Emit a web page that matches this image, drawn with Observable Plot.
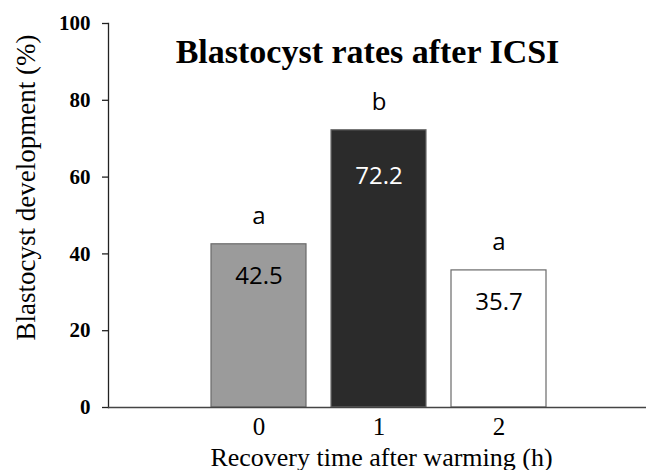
<!DOCTYPE html>
<html>
<head>
<meta charset="utf-8">
<script src="https://cdn.jsdelivr.net/npm/d3@7"></script>
<script src="https://cdn.jsdelivr.net/npm/@observablehq/plot@0.6"></script>
<style>
  html, body { margin: 0; padding: 0; background: #fff; }
  #chart svg { display: block; }
</style>
</head>
<body>
<div id="chart"></div>
<script>
const hours = ["0", "1", "2"];
const rates = [42.5, 72.2, 35.7];
const letters = ["a", "b", "a"];
const yTicks = [0, 20, 40, 60, 80, 100];

const data = hours.map((h, i) => ({hours: h, rate: rates[i], letter: letters[i]}));

const serif = "'Liberation Serif', 'Times New Roman', serif";
const sans = "'Open Sans', 'Liberation Sans', sans-serif";

const chart = Plot.plot({
  width: 646,
  height: 470,
  marginLeft: 108,
  marginRight: 0,
  marginTop: 23,
  marginBottom: 63,
  style: {background: "#fff", color: "#000", overflow: "visible"},
  x: {type: "band", domain: hours, range: [198, 558], paddingInner: 0.21, paddingOuter: 0.105, label: null},
  y: {domain: [0, 100], label: null},
  color: {domain: hours, range: ["#9b9b9b", "#2b2b2b", "#ffffff"]},
  marks: [
    Plot.barY(data, {x: "hours", y: "rate", fill: "hours", stroke: "#6a6a6a", strokeWidth: 1.2}),
    Plot.frame({anchor: "left", stroke: "#222", strokeWidth: 1.3}),
    Plot.ruleY([0], {stroke: "#444", strokeWidth: 1.3}),
    Plot.axisY({ticks: yTicks, tickSize: 6, tickPadding: 12, fontSize: 21, fontWeight: "bold", fontFamily: serif, stroke: "#222", strokeWidth: 1.3, label: null}),
    Plot.axisX({tickSize: 0, tickPadding: 10, fontSize: 25, fontFamily: serif, label: null}),
    Plot.text(data, {filter: d => d.hours !== "1", x: "hours", y: "rate", text: d => d.rate.toFixed(1), dy: 32, lineAnchor: "middle", fontSize: 24, fontFamily: sans, fill: "#000"}),
    Plot.text(data, {filter: d => d.hours === "1", x: "hours", y: "rate", text: d => d.rate.toFixed(1), dy: 46, lineAnchor: "middle", fontSize: 24, fontFamily: sans, fill: "#fff"}),
    Plot.text(data, {x: "hours", y: "rate", text: "letter", dy: -28, lineAnchor: "middle", fontSize: 24, fontFamily: sans, fill: "#000"}),
    Plot.text(["Blastocyst rates after ICSI"], {frameAnchor: "top", dx: -10, dy: 39, lineAnchor: "bottom", fontSize: 34, fontWeight: "bold", fontFamily: serif, fill: "#000"}),
    Plot.text(["Blastocyst development (%)"], {frameAnchor: "left", textAnchor: "middle", dx: -82, dy: -28, rotate: -90, lineAnchor: "middle", fontSize: 27, fontFamily: serif, fill: "#000"}),
    Plot.text(["Recovery time after warming (h)"], {frameAnchor: "bottom", dx: 4, dy: 58, lineAnchor: "bottom", fontSize: 26, fontFamily: serif, fill: "#000"})
  ]
});
document.getElementById("chart").appendChild(chart);
</script>
</body>
</html>
